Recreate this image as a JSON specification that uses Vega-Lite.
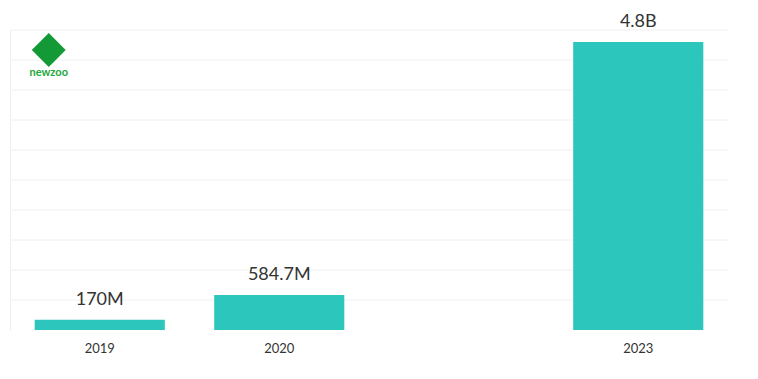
{
  "$schema": "https://vega.github.io/schema/vega-lite/v6.json",
  "width": 718,
  "height": 300,
  "autosize": {"type": "none"},
  "padding": {"left": 10, "top": 30, "right": 30, "bottom": 49},
  "background": "white",
  "config": {"view": {"stroke": null}, "font": "Lato"},
  "datasets": {
    "bars": [
      {"year": "2019", "value": 170, "label": "170M"},
      {"year": "2020", "value": 584.7, "label": "584.7M"},
      {"year": "2023", "value": 4800, "label": "4.8B"}
    ],
    "grid": [
      {"v": 500}, {"v": 1000}, {"v": 1500}, {"v": 2000}, {"v": 2500},
      {"v": 3000}, {"v": 3500}, {"v": 4000}, {"v": 4500}, {"v": 5000}
    ],
    "logo": [
      {"year": "2019", "value": 4667, "label": "newzoo", "ty": 4283}
    ]
  },
  "layer": [
    {
      "data": {"name": "grid"},
      "mark": {"type": "rule", "color": "#f0f0f0", "strokeWidth": 1},
      "encoding": {
        "y": {"field": "v", "type": "quantitative", "scale": {"domain": [0, 5000], "nice": false}}
      }
    },
    {
      "data": {"name": "bars"},
      "mark": {"type": "bar", "color": "#2DC6BD"},
      "encoding": {
        "x": {
          "field": "year", "type": "nominal",
          "scale": {"domain": ["2019", "2020", "gap", "2023"], "paddingInner": 0.275, "paddingOuter": 0.1375},
          "axis": {"title": null, "domain": false, "ticks": false, "labelAngle": 0, "labelFontSize": 13, "labelColor": "#333333", "labelPadding": 12, "labelExpr": "datum.value == 'gap' ? '' : datum.value", "labelFont": "Lato"}
        },
        "y": {
          "field": "value", "type": "quantitative",
          "scale": {"domain": [0, 5000], "nice": false},
          "axis": {"title": null, "labels": false, "ticks": false, "grid": false, "domainColor": "#eeeeee"}
        }
      }
    },
    {
      "data": {"name": "bars"},
      "mark": {"type": "text", "baseline": "bottom", "dy": -11, "fontSize": 18, "color": "#333333", "font": "Lato"},
      "encoding": {
        "x": {"field": "year", "type": "nominal"},
        "y": {"field": "value", "type": "quantitative"},
        "text": {"field": "label"}
      }
    },
    {
      "data": {"name": "logo"},
      "mark": {"type": "point", "shape": "diamond", "filled": true, "color": "#139a37", "size": 1150, "opacity": 1, "xOffset": -51},
      "encoding": {
        "x": {"field": "year", "type": "nominal"},
        "y": {"field": "value", "type": "quantitative"}
      }
    },
    {
      "data": {"name": "logo"},
      "mark": {"type": "text", "fontSize": 11, "fontWeight": "bold", "color": "#1aa83a", "dx": -51, "font": "Lato"},
      "encoding": {
        "x": {"field": "year", "type": "nominal"},
        "y": {"field": "ty", "type": "quantitative"},
        "text": {"field": "label"}
      }
    }
  ]
}
